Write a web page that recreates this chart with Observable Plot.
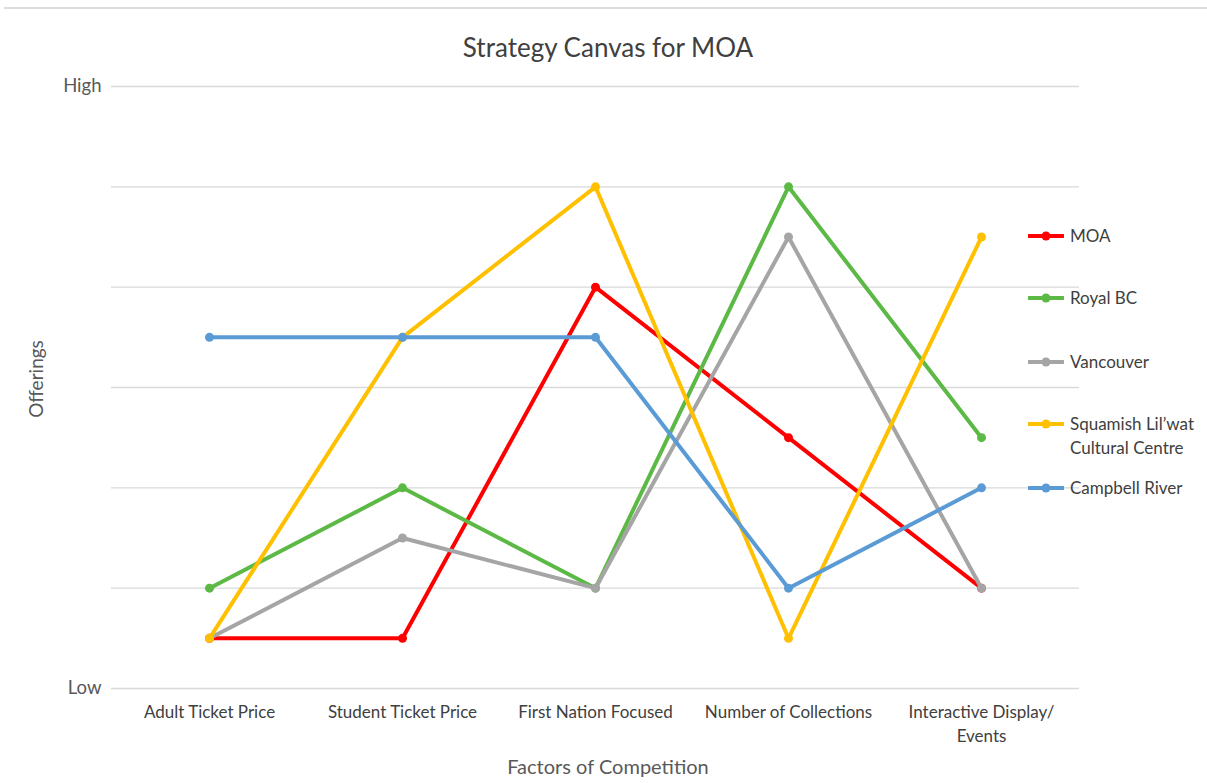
<!DOCTYPE html>
<html>
<head>
<meta charset="utf-8">
<script src="https://cdn.jsdelivr.net/npm/d3@7"></script>
<script src="https://cdn.jsdelivr.net/npm/@observablehq/plot@0.6"></script>
<style>
  html, body { margin: 0; padding: 0; background: #fff; }
  #wrap { position: relative; width: 1207px; height: 783px; overflow: hidden; font-family: Lato, "Open Sans", sans-serif; }
  #wrap svg.plot { position: absolute; left: 0; top: 0; }
  .topline { position: absolute; left: 4px; right: 0; top: 7px; height: 0; border-top: 2px solid #dcdcdc; }
  .title { position: absolute; left: 0; width: 1216px; top: 30px; text-align: center; font-size: 26px; line-height: 34px; color: #404040; }
  .xlabel { position: absolute; left: 0; width: 1216px; top: 752px; text-align: center; font-size: 20px; line-height: 28px; color: #595959; }
  .ylabel { position: absolute; left: 35px; top: 379px; transform: translate(-50%, -50%) rotate(-90deg); font-size: 19px; color: #595959; white-space: nowrap; }
  .legend { position: absolute; left: 1028px; top: 0; }
  .item { position: absolute; left: 0; display: flex; align-items: flex-start; white-space: nowrap; }
  .item svg { flex: none; }
  .item span { font-size: 17px; color: #404040; line-height: 24px; margin-left: 6px; }
</style>
</head>
<body>
<div id="wrap">
  <div class="topline"></div>
  <div class="title">Strategy Canvas for MOA</div>
  <div class="ylabel">Offerings</div>
  <div class="xlabel">Factors of Competition</div>
  <div class="legend" id="legend"></div>
</div>
<script>
// Categories (factors of competition)
const factors = ["Adult Ticket Price", "Student Ticket Price", "First Nation Focused", "Number of Collections", "Interactive Display/\nEvents"];
// Series names
const seriesNames = ["MOA", "Royal BC", "Vancouver", "Squamish Lil’wat Cultural Centre", "Campbell River"];
const legendLabels = ["MOA", "Royal BC", "Vancouver", "Squamish Lil’wat<br>Cultural Centre", "Campbell River"];
const seriesColors = ["#ff0000", "#5cb946", "#a5a5a5", "#ffc000", "#5b9bd5"];
// Values (0 = Low, 6 = High)
const moa       = [0.5, 0.5, 4.0, 2.5, 1.0];
const royalBC   = [1.0, 2.0, 1.0, 5.0, 2.5];
const vancouver = [0.5, 1.5, 1.0, 4.5, 1.0];
const squamish  = [0.5, 3.5, 5.0, 0.5, 4.5];
const campbell  = [3.5, 3.5, 3.5, 1.0, 2.0];
// Y ticks
const yTicks = [0, 1, 2, 3, 4, 5, 6];
const yTickLabels = ["Low", "", "", "", "", "", "High"];

const seriesValues = [moa, royalBC, vancouver, squamish, campbell];
const data = seriesNames.flatMap((s, i) => factors.map((f, j) => ({series: s, factor: f, value: seriesValues[i][j]})));

const seriesMarks = seriesNames.flatMap((s) => {
  const d = data.filter(r => r.series === s);
  return [
    Plot.line(d, {x: "factor", y: "value", stroke: "series", strokeWidth: 4, strokeLinejoin: "round", strokeLinecap: "round"}),
    Plot.dot(d, {x: "factor", y: "value", fill: "series", r: 4.5})
  ];
});

const chart = Plot.plot({
  width: 1207,
  height: 783,
  marginLeft: 111,
  marginRight: 128,
  marginTop: 86,
  marginBottom: 95,
  style: {fontFamily: "Lato, 'Open Sans', sans-serif", background: "transparent"},
  x: {type: "point", domain: factors, padding: 0.5, label: null},
  y: {domain: [0, 6], label: null},
  color: {domain: seriesNames, range: seriesColors},
  marks: [
    Plot.ruleY(yTicks, {stroke: "#d9d9d9", strokeWidth: 1.3}),
    Plot.axisY(yTicks, {tickSize: 0, tickPadding: 10, tickFormat: (d) => yTickLabels[yTicks.indexOf(d)], fontSize: 18.5, fill: "#595959", label: null}),
    Plot.axisX({tickSize: 0, tickPadding: 13, fontSize: 17, fill: "#404040", label: null, lineAnchor: "top", lineHeight: 1.4}),
    ...seriesMarks
  ]
});
chart.classList.add("plot");
document.getElementById("wrap").insertBefore(chart, document.getElementById("wrap").firstChild);

// Legend
const legendY = [236, 298, 362, 424, 488];
const legend = document.getElementById("legend");
seriesNames.forEach((s, i) => {
  const item = document.createElement("div");
  item.className = "item";
  item.style.top = (legendY[i] - 12) + "px";
  item.innerHTML = `<svg width="36" height="24"><line x1="1" x2="35" y1="12" y2="12" stroke="${seriesColors[i]}" stroke-width="4" stroke-linecap="round"/><circle cx="18" cy="12" r="4.5" fill="${seriesColors[i]}"/></svg><span>${legendLabels[i]}</span>`;
  legend.appendChild(item);
});
</script>
</body>
</html>
